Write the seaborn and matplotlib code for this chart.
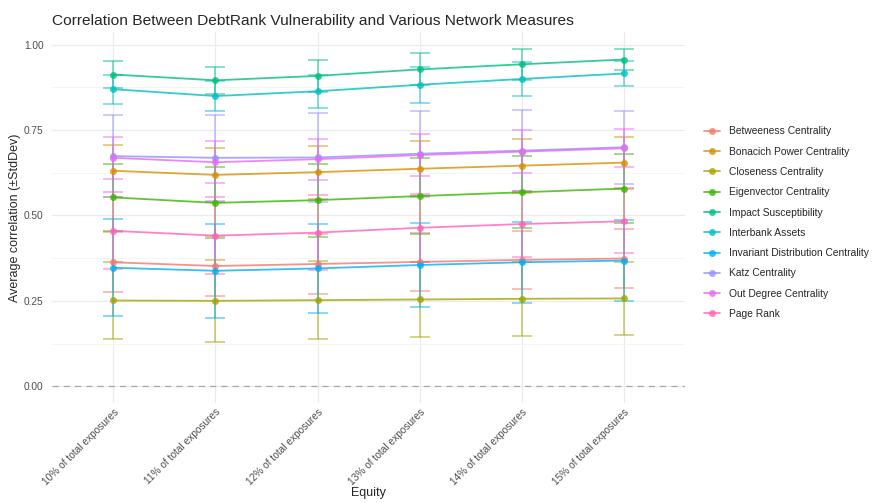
import numpy as np
import pandas as pd
import seaborn as sns
import matplotlib.pyplot as plt

# equity levels (x axis)
equity = ["10% of total exposures", "11% of total exposures", "12% of total exposures",
          "13% of total exposures", "14% of total exposures", "15% of total exposures"]

measures = ["Betweeness Centrality", "Bonacich Power Centrality", "Closeness Centrality",
            "Eigenvector Centrality", "Impact Susceptibility", "Interbank Assets",
            "Invariant Distribution Centrality", "Katz Centrality", "Out Degree Centrality",
            "Page Rank"]

# mean correlation per measure
betweeness_mean = [0.363, 0.352, 0.358, 0.364, 0.370, 0.374]
bonacich_mean = [0.631, 0.619, 0.627, 0.637, 0.646, 0.655]
closeness_mean = [0.251, 0.250, 0.252, 0.254, 0.256, 0.257]
eigenvector_mean = [0.553, 0.537, 0.545, 0.557, 0.568, 0.579]
impact_mean = [0.913, 0.896, 0.909, 0.928, 0.943, 0.957]
interbank_mean = [0.870, 0.850, 0.864, 0.883, 0.900, 0.916]
invariant_mean = [0.347, 0.338, 0.345, 0.355, 0.363, 0.368]
katz_mean = [0.674, 0.669, 0.670, 0.681, 0.690, 0.700]
outdegree_mean = [0.669, 0.656, 0.665, 0.677, 0.687, 0.697]
pagerank_mean = [0.455, 0.441, 0.450, 0.464, 0.475, 0.483]

# standard deviations
betweeness_sd = [0.088, 0.088, 0.087, 0.086, 0.086, 0.086]
bonacich_sd = [0.076, 0.080, 0.078, 0.080, 0.079, 0.075]
closeness_sd = [0.114, 0.120, 0.114, 0.110, 0.109, 0.108]
eigenvector_sd = [0.098, 0.104, 0.107, 0.110, 0.106, 0.101]
impact_sd = [0.040, 0.040, 0.046, 0.047, 0.045, 0.032]
interbank_sd = [0.042, 0.045, 0.049, 0.052, 0.049, 0.038]
invariant_sd = [0.142, 0.137, 0.130, 0.124, 0.118, 0.119]
katz_sd = [0.120, 0.126, 0.130, 0.126, 0.119, 0.107]
outdegree_sd = [0.062, 0.061, 0.060, 0.062, 0.063, 0.056]
pagerank_sd = [0.113, 0.112, 0.110, 0.100, 0.096, 0.094]

means = [betweeness_mean, bonacich_mean, closeness_mean, eigenvector_mean, impact_mean,
         interbank_mean, invariant_mean, katz_mean, outdegree_mean, pagerank_mean]
sds = [betweeness_sd, bonacich_sd, closeness_sd, eigenvector_sd, impact_sd,
       interbank_sd, invariant_sd, katz_sd, outdegree_sd, pagerank_sd]

colors = ["#F8766D", "#D89000", "#A3A500", "#39B600", "#00BF7D",
          "#00BFC4", "#00B0F6", "#9590FF", "#E76BF3", "#FF62BC"]

rows = []
for m, mu, sd in zip(measures, means, sds):
    for e, a, b in zip(equity, mu, sd):
        rows.append({"Equity": e, "measure": m, "mean": a, "sd": b})
df = pd.DataFrame(rows)

sns.set_theme(style="white")
plt.rcParams["font.family"] = ["Liberation Sans", "DejaVu Sans"]

fig = plt.figure(figsize=(8.74, 5.03), dpi=100)
ax = fig.add_axes([0.0595, 0.199, 0.7245, 0.737])

palette = dict(zip(measures, colors))
ax.axhline(0, color="#A9A9A9", lw=0.9, ls=(0, (5, 4)), zorder=1)

for m in measures:
    sub = df[df["measure"] == m]
    ax.errorbar(sub["Equity"], sub["mean"], yerr=sub["sd"], fmt="none",
                ecolor=palette[m], elinewidth=1.1, capsize=7, capthick=1.1,
                alpha=0.6, zorder=2)

sns.lineplot(data=df, x="Equity", y="mean", hue="measure", palette=palette,
             marker="o", markersize=5, markeredgewidth=0, linewidth=1.3,
             alpha=0.8, sort=False, ax=ax, zorder=3)

ax.set_xlim(-0.6, 5.6)
ax.set_ylim(-0.049, 1.037)
ax.set_yticks([0, 0.25, 0.5, 0.75, 1.0])
ax.set_yticklabels(["0.00", "0.25", "0.50", "0.75", "1.00"])
ax.set_yticks([0.125, 0.375, 0.625, 0.875], minor=True)
ax.grid(True, which="major", color="#EBEBEB", lw=0.9)
ax.grid(True, which="minor", axis="y", color="#F3F3F3", lw=0.6)
ax.set_axisbelow(True)
for s in ax.spines.values():
    s.set_visible(False)
ax.tick_params(axis="both", length=0, labelsize=7.3, labelcolor="#4D4D4D")
ax.tick_params(axis="y", pad=6)
ax.tick_params(axis="x", pad=3)
plt.setp(ax.get_xticklabels(), rotation=45, ha="right", rotation_mode="anchor")

ax.set_xlabel("Equity", fontsize=9, labelpad=0)
ax.set_ylabel("Average correlation (±StdDev)", fontsize=9, labelpad=2)
ax.set_title("Correlation Between DebtRank Vulnerability and Various Network Measures",
             fontsize=11.15, loc="left", pad=5)

handles, labels = ax.get_legend_handles_labels()
ax.legend(handles, labels, loc="center left", bbox_to_anchor=(1.015, 0.486), frameon=False,
          fontsize=7.4, handlelength=1.6, labelspacing=1.0, handletextpad=0.8)

fig.savefig("out.png", dpi=100)
